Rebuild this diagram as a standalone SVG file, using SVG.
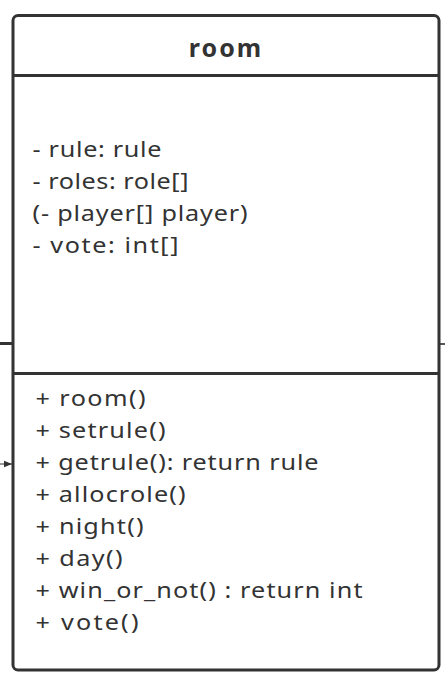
<svg xmlns="http://www.w3.org/2000/svg" width="445" height="678" viewBox="0 0 445 678">
<style>
.t{font-family:"Noto Sans","DejaVu Sans",sans-serif;font-size:21px;fill:#333}
.h{font-family:"Noto Sans","DejaVu Sans",sans-serif;font-size:25px;font-weight:bold;fill:#333;letter-spacing:2px}
.ln{stroke:#333;stroke-width:3;fill:none}
</style>
<defs>
<marker id="ah" viewBox="0 0 10 10" refX="10" refY="5" markerWidth="8" markerHeight="8" markerUnits="userSpaceOnUse" orient="auto"><path d="M0,1 L10,5 L0,9 z" fill="#333"/></marker>
</defs>
<g id="connectors">
<line x1="0" y1="343.5" x2="12" y2="343.5" stroke="#333" stroke-width="3"/>
<line x1="440" y1="344" x2="445" y2="344" stroke="#555" stroke-width="2"/>
<line x1="0" y1="464" x2="12" y2="464" stroke="#333" stroke-width="1" marker-end="url(#ah)"/>
</g>
<g id="room">
<rect x="13" y="15.5" width="426" height="654.5" rx="5" fill="#fff" class="ln"/>
<line x1="13" y1="75.5" x2="439" y2="75.5" class="ln"/>
<line x1="13" y1="373.5" x2="439" y2="373.5" class="ln"/>
<text x="226" y="56.5" text-anchor="middle" class="h">room</text>
<g transform="scale(1.2,1)">
<text class="t" x="27.1" y="157" textLength="107.5" lengthAdjust="spacing">- rule: rule</text>
<text class="t" x="27.1" y="189" textLength="130" lengthAdjust="spacing">- roles: role[]</text>
<text class="t" x="27.1" y="221" textLength="179.2" lengthAdjust="spacing">(- player[] player)</text>
<text class="t" x="27.1" y="253" textLength="121.7" lengthAdjust="spacing">- vote: int[]</text>
<text class="t" x="29.6" y="406" textLength="91.7" lengthAdjust="spacing">+ room()</text>
<text class="t" x="29.6" y="438" textLength="108.3" lengthAdjust="spacing">+ setrule()</text>
<text class="t" x="29.6" y="470" textLength="235.8" lengthAdjust="spacing">+ getrule(): return rule</text>
<text class="t" x="29.6" y="502" textLength="125" lengthAdjust="spacing">+ allocrole()</text>
<text class="t" x="29.6" y="534" textLength="90" lengthAdjust="spacing">+ night()</text>
<text class="t" x="29.6" y="566" textLength="72.5" lengthAdjust="spacing">+ day()</text>
<text class="t" x="29.6" y="598" textLength="272.5" lengthAdjust="spacing">+ win_or_not() : return int</text>
<text class="t" x="29.6" y="630" textLength="85.8" lengthAdjust="spacing">+ vote()</text>
</g>
</g>
</svg>
